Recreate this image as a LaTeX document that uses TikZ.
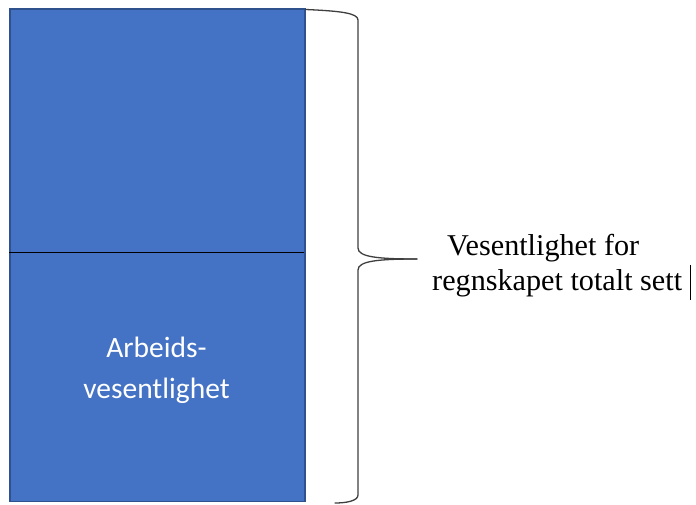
\documentclass[tikz,border=0pt]{standalone}
\usepackage{fontspec}
\setmainfont{Liberation Serif}
\newfontfamily\calibrilike{Carlito}
\definecolor{barfill}{HTML}{4472C4}
\definecolor{baredge}{HTML}{2F528F}
\definecolor{bracegray}{HTML}{3F3F3F}
\begin{document}
\begin{tikzpicture}[x=1pt,y=1pt,
  bar/.style={fill=barfill,draw=baredge,line width=1.5pt},
  divider/.style={draw=black,line width=1pt},
  bracket/.style={draw=bracegray,line width=1.3pt,line cap=round},
  inbar/.style={text=white,font=\calibrilike\fontsize{29.5}{41}\selectfont,align=center,inner sep=0pt},
  label/.style={font=\fontsize{30.2}{34}\selectfont,inner sep=0pt,anchor=base west}]
\useasboundingbox (0,0) rectangle (696,504);
% stacked bar
\node[bar,minimum width=295pt,minimum height=492pt,inner sep=0pt,anchor=south west] (bar) at (9,2) {};
\coordinate (divL) at (9,251);
\coordinate (divR) at (304,251);
\draw[divider] (divL) -- (divR);
\node[inbar] (work) at (156.5,134) {Arbeids-\\vesentlighet};
% curly brace spanning the full bar
\coordinate (tip) at (417,245);
\draw[bracket] (bar.north east) ++(0,-1) .. controls (340,493) and (358,491) .. (358,484)
  -- (358,256) .. controls (358,247) and (378,245) .. (tip);
\draw[bracket] (tip) .. controls (378,245) and (358,243) .. (358,234)
  -- (358,9) .. controls (358,3) and (346,1) .. (335,1);
% label of the brace
\node[label] (l1) at (447,248) {Vesentlighet for};
\node[label] (l2) at (432,214) {regnskapet totalt sett};
\coordinate (curT) at (690,239);
\coordinate (curB) at (690,204);
\draw[black,line width=1pt] (curT) -- (curB);
\end{tikzpicture}
\end{document}
